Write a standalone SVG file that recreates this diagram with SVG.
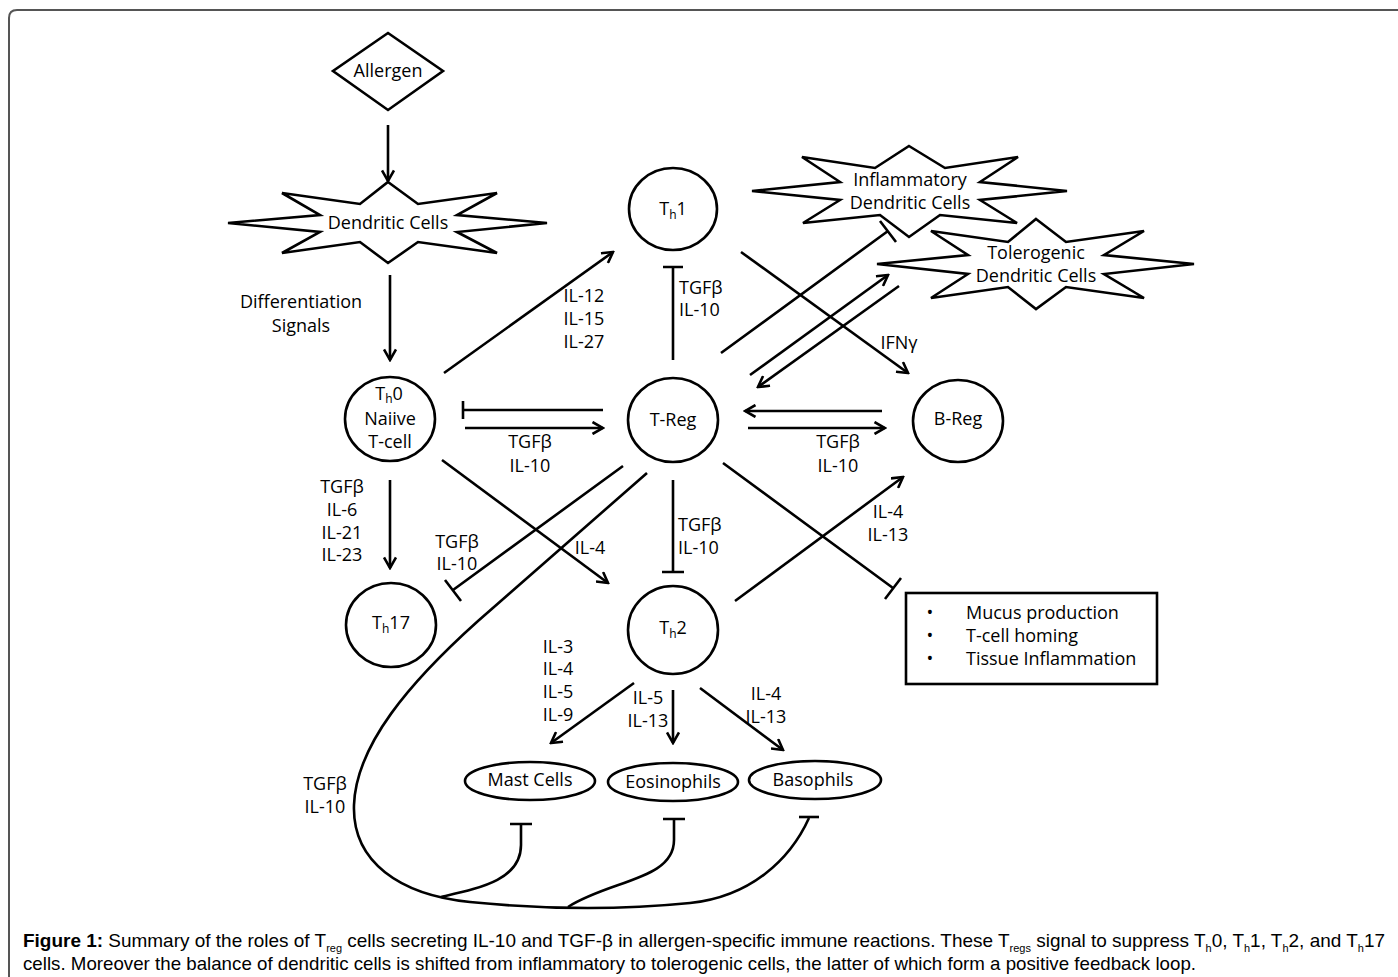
<svg xmlns="http://www.w3.org/2000/svg" width="1398" height="977" viewBox="0 0 1398 977">
<defs>
<style>
.ln{stroke:#000;stroke-width:2.6;fill:none}
.nd{fill:#fff;stroke:#000;stroke-width:2.6}
.t{font-family:"Open Sans","DejaVu Sans",sans-serif;font-size:18px;text-anchor:middle;fill:#000}
.ts{font-family:"Open Sans","DejaVu Sans",sans-serif;font-size:18px;text-anchor:start;fill:#000}
.sb{font-size:12px}
.cap{font-family:"Liberation Sans",Arial,sans-serif;font-size:19px;fill:#000}
.cs{font-size:11px}
</style>
<marker id="ah" viewBox="0 0 14 14" refX="12" refY="7" markerWidth="14" markerHeight="14" markerUnits="userSpaceOnUse" orient="auto">
<path d="M1.5,1 L12,7 L1.5,13" fill="none" stroke="#000" stroke-width="2.6"/>
</marker>
</defs>
<rect width="1398" height="977" fill="#fff"/>
<path d="M9,985 L9,18 Q9,10 17,10 L1405,10" fill="none" stroke="#555" stroke-width="2"/>

<g id="connectors">
<g marker-end="url(#ah)" class="ln">
<path d="M388,125 L388,181"/>
<path d="M390,275 L390,360"/>
<path d="M444,373 L613,252"/>
<path d="M750,375 L888,275"/>
<path d="M899,286 L758,387"/>
<path d="M741,252 L908,373"/>
<path d="M465,428 L603,428"/>
<path d="M882,411 L745,411"/>
<path d="M748,428 L885,428"/>
<path d="M390,480 L390,568"/>
<path d="M442,460 L608,583"/>
<path d="M735,601 L903,477"/>
<path d="M634,683 L551,743"/>
<path d="M673,690 L673,743"/>
<path d="M700,688 L783,750"/>
</g>
<g class="ln">
<path d="M673,360 L673,267 M663,267 L683,267"/>
<path d="M721,353 L888,231 M880,221 L896,242"/>
<path d="M603,410 L463,410 M463,401 L463,419"/>
<path d="M623,466 L453,590 M445,580 L461,601"/>
<path d="M673,480 L673,572 M662,572 L684,572"/>
<path d="M723,463 L893,588 M901,578 L885,599"/>
<path d="M647,473 L478,621 C410,682 356,745 354,805 C352,862 400,895 470,902 C540,909 620,910 690,903 C750,897 790,860 809,818"/>
<path d="M799,817 L819,817"/>
<path d="M521,824 L521,845 C521,880 480,888 441,897 M510,824 L532,824"/>
<path d="M674,819 L674,840 C674,880 610,880 568,907 M663,819 L685,819"/>
</g>
</g>

<g id="allergen">
<path class="nd" d="M388,33 L443,71 L388,110 L333,71 Z"/>
<text class="t" x="388" y="77">Allergen</text>
</g>

<g id="dendritic">
<path class="nd" d="M388,182 L418,204 L497,193 L457,215 L547,223 L457,232 L497,253 L418,242 L388,263 L360,242 L282,253 L320,232 L228,223 L320,215 L282,193 L360,204 Z"/>
<text class="t" x="388" y="229">Dendritic Cells</text>
</g>

<g id="diff-label">
<text class="t" x="301" y="308">Differentiation</text>
<text class="t" x="301" y="332">Signals</text>
</g>

<g id="inflammatory">
<path class="nd" d="M909,146 L945,168 L1018,157 L980,182 L1067,191 L980,200 L1017,223 L940,215 L909,237 L880,215 L803,223 L840,200 L752,191 L840,182 L802,157 L875,168 Z"/>
<text class="t" x="910" y="186">Inflammatory</text>
<text class="t" x="910" y="209">Dendritic Cells</text>
</g>

<g id="tolerogenic">
<path class="nd" d="M1036,219 L1066,242 L1144,231 L1104,255 L1194,264 L1104,274 L1144,298 L1066,287 L1036,309 L1008,287 L931,298 L968,274 L877,264 L968,255 L931,231 L1008,242 Z"/>
<text class="t" x="1036" y="259">Tolerogenic</text>
<text class="t" x="1036" y="282">Dendritic Cells</text>
</g>

<g id="th1">
<ellipse class="nd" cx="673" cy="209" rx="44" ry="41"/>
<text class="t" x="673" y="215">T<tspan class="sb" dy="4">h</tspan><tspan dy="-4">1</tspan></text>
</g>

<g id="th0">
<ellipse class="nd" cx="390" cy="419" rx="45" ry="42"/>
<text class="t" x="389" y="400">T<tspan class="sb" dy="3">h</tspan><tspan dy="-3">0</tspan></text>
<text class="t" x="390" y="425">Naiive</text>
<text class="t" x="390" y="448">T-cell</text>
</g>

<g id="treg">
<ellipse class="nd" cx="673" cy="420" rx="45" ry="42"/>
<text class="t" x="673" y="426">T-Reg</text>
</g>

<g id="breg">
<ellipse class="nd" cx="958" cy="421" rx="45" ry="41"/>
<text class="t" x="958" y="425">B-Reg</text>
</g>

<g id="th17">
<ellipse class="nd" cx="391" cy="625" rx="45" ry="42"/>
<text class="t" x="391" y="629">T<tspan class="sb" dy="4">h</tspan><tspan dy="-4">17</tspan></text>
</g>

<g id="th2">
<ellipse class="nd" cx="673" cy="630" rx="45" ry="44"/>
<text class="t" x="673" y="634">T<tspan class="sb" dy="4">h</tspan><tspan dy="-4">2</tspan></text>
</g>

<g id="mast">
<ellipse class="nd" cx="530" cy="781" rx="65" ry="19"/>
<text class="t" x="530" y="786">Mast Cells</text>
</g>
<g id="eos">
<ellipse class="nd" cx="673" cy="782" rx="65" ry="19"/>
<text class="t" x="673" y="788">Eosinophils</text>
</g>
<g id="baso">
<ellipse class="nd" cx="815" cy="780" rx="66" ry="19"/>
<text class="t" x="813" y="786">Basophils</text>
</g>

<g id="effects">
<rect x="906" y="593" width="251" height="91" fill="#fff" stroke="#000" stroke-width="2.6"/>
<text class="t" x="930" y="619">•</text>
<text class="t" x="930" y="642">•</text>
<text class="t" x="930" y="665">•</text>
<text class="ts" x="966" y="619">Mucus production</text>
<text class="ts" x="966" y="642">T-cell homing</text>
<text class="ts" x="966" y="665">Tissue Inflammation</text>
</g>

<g id="labels">
<text class="t" x="584" y="302">IL-12</text>
<text class="t" x="584" y="325">IL-15</text>
<text class="t" x="584" y="348">IL-27</text>
<text class="ts" x="679" y="294">TGFβ</text>
<text class="ts" x="679" y="316">IL-10</text>
<text class="t" x="899" y="349">IFNγ</text>
<text class="t" x="530" y="448">TGFβ</text>
<text class="t" x="530" y="472">IL-10</text>
<text class="t" x="838" y="448">TGFβ</text>
<text class="t" x="838" y="472">IL-10</text>
<text class="t" x="342" y="493">TGFβ</text>
<text class="t" x="342" y="516">IL-6</text>
<text class="t" x="342" y="539">IL-21</text>
<text class="t" x="342" y="561">IL-23</text>
<text class="t" x="457" y="548">TGFβ</text>
<text class="t" x="457" y="570">IL-10</text>
<text class="t" x="590" y="554">IL-4</text>
<text class="ts" x="678" y="531">TGFβ</text>
<text class="ts" x="678" y="554">IL-10</text>
<text class="t" x="888" y="518">IL-4</text>
<text class="t" x="888" y="541">IL-13</text>
<text class="t" x="558" y="653">IL-3</text>
<text class="t" x="558" y="675">IL-4</text>
<text class="t" x="558" y="698">IL-5</text>
<text class="t" x="558" y="721">IL-9</text>
<text class="t" x="648" y="704">IL-5</text>
<text class="t" x="648" y="727">IL-13</text>
<text class="t" x="766" y="700">IL-4</text>
<text class="t" x="766" y="723">IL-13</text>
<text class="t" x="325" y="790">TGFβ</text>
<text class="t" x="325" y="813">IL-10</text>
</g>

<g id="caption">
<text class="cap" x="23" y="947" textLength="1362" lengthAdjust="spacingAndGlyphs"><tspan font-weight="bold">Figure 1:</tspan> Summary of the roles of T<tspan class="cs" dy="5">reg</tspan><tspan dy="-5"> cells secreting IL-10 and TGF-β in allergen-specific immune reactions. These T</tspan><tspan class="cs" dy="5">regs</tspan><tspan dy="-5"> signal to suppress T</tspan><tspan class="cs" dy="5">h</tspan><tspan dy="-5">0, T</tspan><tspan class="cs" dy="5">h</tspan><tspan dy="-5">1, T</tspan><tspan class="cs" dy="5">h</tspan><tspan dy="-5">2, and T</tspan><tspan class="cs" dy="5">h</tspan><tspan dy="-5">17</tspan></text>
<text class="cap" x="23" y="970" textLength="1173" lengthAdjust="spacingAndGlyphs">cells. Moreover the balance of dendritic cells is shifted from inflammatory to tolerogenic cells, the latter of which form a positive feedback loop.</text>
</g>
</svg>
